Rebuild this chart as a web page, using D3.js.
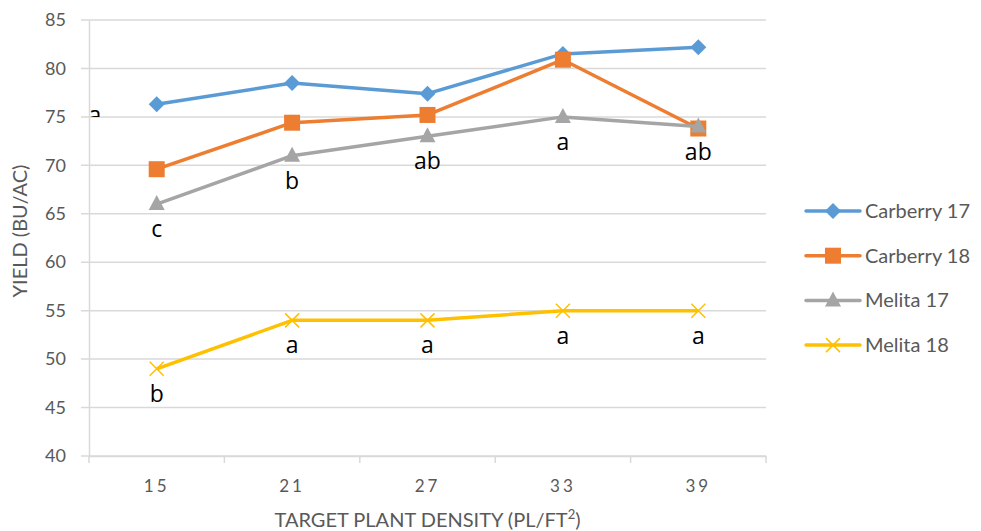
<!DOCTYPE html>
<html>
<head>
<meta charset="utf-8">
<script src="https://cdnjs.cloudflare.com/ajax/libs/d3/7.8.5/d3.min.js"></script>
<style>
  body { margin: 0; background: #fff; }
  svg { font-family: Lato, "Open Sans", sans-serif; }
</style>
</head>
<body>
<div id="chart"></div>
<script>
// chart values
var densities = ["15", "21", "27", "33", "39"];
var seriesNames = ["Carberry 17", "Carberry 18", "Melita 17", "Melita 18"];
var carberry17 = [76.3, 78.5, 77.4, 81.5, 82.2];
var carberry18 = [69.6, 74.4, 75.2, 80.9, 73.8];
var melita17 = [66, 71, 73, 75, 74];
var melita18 = [49, 54, 54, 55, 55];
var melita17Letters = ["c", "b", "ab", "a", "ab"];
var melita18Letters = ["b", "a", "a", "a", "a"];
var yTicks = [40, 45, 50, 55, 60, 65, 70, 75, 80, 85];

var colors = ["#5B9BD5", "#ED7D31", "#A5A5A5", "#FFC000"];
var markers = ["diamond", "square", "triangle", "cross"];

var W = 981, H = 531;
var pLeft = 89, pRight = 766, pTop = 20, pBottom = 456;

var svg = d3.select("#chart").append("svg")
    .attr("width", W)
    .attr("height", H);

var x = d3.scaleBand().domain(densities).range([pLeft, pRight]);
var y = d3.scaleLinear().domain([40, 85]).range([pBottom, pTop]);

// grid lines
svg.append("g")
    .selectAll("line")
    .data(yTicks)
    .enter()
    .append("line")
    .attr("x1", pLeft - 8)
    .attr("x2", pRight)
    .attr("y1", function(d) { return y(d); })
    .attr("y2", function(d) { return y(d); })
    .attr("stroke", "#D9D9D9")
    .attr("stroke-width", 1.5);

// y axis
var yAxis = svg.append("g")
    .attr("transform", "translate(" + pLeft + ",0)")
    .call(d3.axisLeft(y).tickValues(yTicks).tickSize(0).tickPadding(23));
yAxis.select(".domain").attr("stroke", "#D9D9D9").attr("stroke-width", 1.5);
yAxis.selectAll("text")
    .attr("font-size", "18px")
    .attr("fill", "#595959")
    .style("font-family", "Lato, sans-serif");

// x axis
var xAxis = svg.append("g")
    .attr("transform", "translate(0," + pBottom + ")")
    .call(d3.axisBottom(x).tickSize(0).tickPadding(24));
xAxis.select(".domain").attr("stroke", "#D9D9D9").attr("stroke-width", 1.5);
xAxis.selectAll("text")
    .attr("font-size", "17px")
    .attr("fill", "#595959")
    .attr("letter-spacing", "3px")
    .style("font-family", "Lato, sans-serif");

// tick marks between categories
var bounds = densities.map(function(d) { return x(d); }).concat([x(densities[4]) + x.bandwidth()]);
svg.append("g")
    .selectAll("line")
    .data(bounds)
    .enter()
    .append("line")
    .attr("x1", function(d) { return d; })
    .attr("x2", function(d) { return d; })
    .attr("y1", pBottom)
    .attr("y2", pBottom + 7)
    .attr("stroke", "#D9D9D9")
    .attr("stroke-width", 1.5);

// axis titles
var xt = svg.append("text")
    .attr("x", (pLeft + pRight) / 2)
    .attr("y", 527)
    .attr("text-anchor", "middle")
    .attr("font-size", "20px")
    .attr("fill", "#595959");
xt.append("tspan").text("TARGET PLANT DENSITY (PL/FT");
xt.append("tspan").attr("font-size", "13px").attr("dy", -8).text("2");
xt.append("tspan").attr("dy", 8).text(")");

svg.append("text")
    .attr("transform", "translate(27,231) rotate(-90)")
    .attr("text-anchor", "middle")
    .attr("font-size", "20px")
    .attr("fill", "#595959")
    .text("YIELD (BU/AC)");

// lines and markers
var allSeries = [carberry17, carberry18, melita17, melita18];
var line = d3.line()
    .x(function(d, i) { return x(densities[i]) + x.bandwidth() / 2; })
    .y(function(d) { return y(d); });

function drawMarker(g, type, color) {
    if (type === "diamond") {
        g.append("path").attr("d", "M0,-8L8,0L0,8L-8,0Z").attr("fill", color);
    } else if (type === "square") {
        g.append("rect").attr("x", -8).attr("y", -8).attr("width", 16).attr("height", 16).attr("fill", color);
    } else if (type === "triangle") {
        g.append("path").attr("d", "M0,-9L8,6L-8,6Z").attr("fill", color);
    } else {
        g.append("path").attr("d", "M-7,-7L7,7M-7,7L7,-7")
            .attr("stroke", color).attr("stroke-width", 1.5).attr("fill", "none");
    }
}

allSeries.forEach(function(vals, s) {
    svg.append("path")
        .datum(vals)
        .attr("d", line)
        .attr("fill", "none")
        .attr("stroke", colors[s])
        .attr("stroke-width", 3.5)
        .attr("stroke-linejoin", "round");

    svg.append("g")
        .selectAll("g")
        .data(vals)
        .enter()
        .append("g")
        .attr("transform", function(d, i) {
            return "translate(" + (x(densities[i]) + x.bandwidth() / 2) + "," + y(d) + ")";
        })
        .each(function() { drawMarker(d3.select(this), markers[s], colors[s]); });
});

// significance letters
function letters(vals, lab) {
    svg.append("g")
        .selectAll("text")
        .data(lab)
        .enter()
        .append("text")
        .attr("x", function(d, i) { return x(densities[i]) + x.bandwidth() / 2; })
        .attr("y", function(d, i) { return y(vals[i]) + 33; })
        .attr("text-anchor", "middle")
        .attr("font-size", "23px")
        .attr("fill", "#000")
        .style("font-family", "'Open Sans', sans-serif")
        .text(function(d) { return d; });
}
letters(melita17, melita17Letters);
letters(melita18, melita18Letters);

// partly hidden letter near the y axis
svg.append("clipPath").attr("id", "clipA")
    .append("rect").attr("x", pLeft).attr("y", 0).attr("width", 40).attr("height", y(75));
svg.append("text")
    .attr("x", pLeft + 6)
    .attr("y", y(75) + 6)
    .attr("text-anchor", "middle")
    .attr("font-size", "23px")
    .attr("clip-path", "url(#clipA)")
    .style("font-family", "'Open Sans', sans-serif")
    .text("a");

// legend
var legend = svg.append("g")
    .selectAll("g")
    .data(seriesNames)
    .enter()
    .append("g")
    .attr("transform", function(d, i) { return "translate(806," + (211 + i * 44.7) + ")"; });

legend.append("line")
    .attr("x1", 0).attr("x2", 54)
    .attr("stroke", function(d, i) { return colors[i]; })
    .attr("stroke-width", 3.5)
    .attr("stroke-linecap", "round");

legend.each(function(d, i) {
    var m = d3.select(this).append("g").attr("transform", "translate(27,0)");
    drawMarker(m, markers[i], colors[i]);
});

legend.append("text")
    .attr("x", 59)
    .attr("y", 7)
    .attr("font-size", "20px")
    .attr("fill", "#595959")
    .text(function(d) { return d; });
</script>
</body>
</html>
